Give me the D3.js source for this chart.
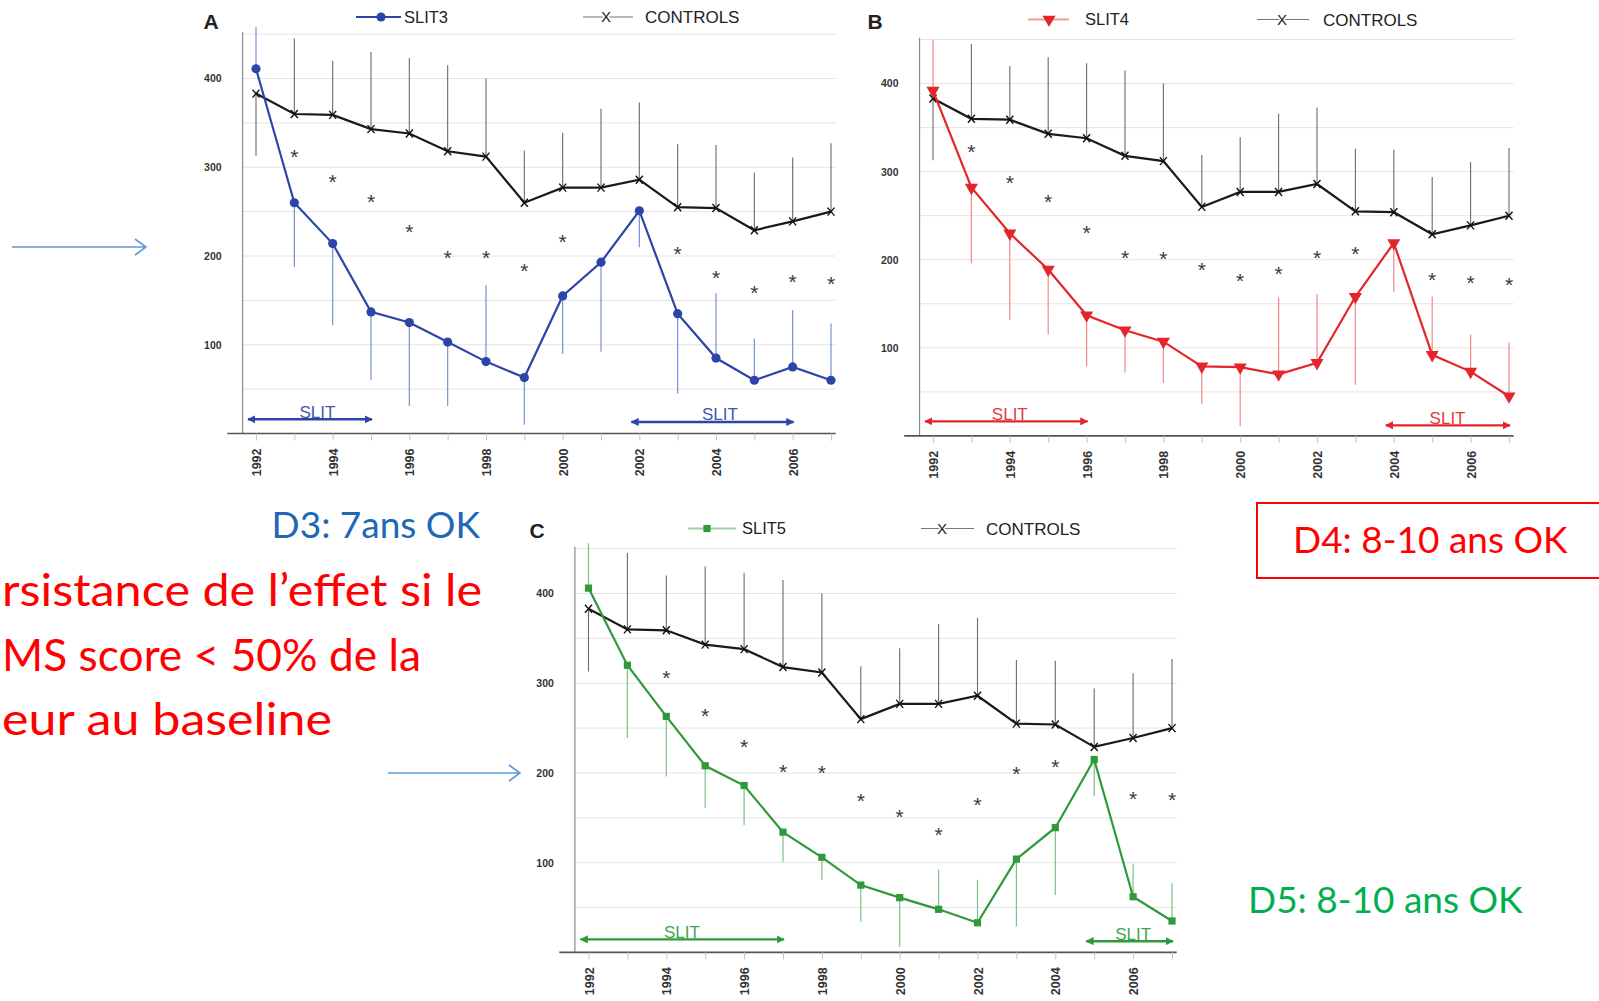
<!DOCTYPE html>
<html>
<head>
<meta charset="utf-8">
<script src="https://cdn.jsdelivr.net/npm/d3@7"></script>
<style>
  body { margin: 0; background: #fff; }
  svg { display: block; }
</style>
</head>
<body>
<div id="chart"></div>
<script>
// SLIT trial, three panels (A/B/C), each compared against the same controls

const years = [1992, 1993, 1994, 1995, 1996, 1997, 1998, 1999, 2000, 2001, 2002, 2003, 2004, 2005, 2006, 2007];
const labelYears = [1992, 1994, 1996, 1998, 2000, 2002, 2004, 2006];
const yTickValues = [100, 200, 300, 400];
const gridValues = [50, 100, 150, 200, 250, 300, 350, 400, 450];

// controls: mean and end of the error bar
const controlsMean = [383, 360, 359, 343, 338, 318, 312, 260, 277, 277, 286, 255, 254, 229, 239, 250];
const controlsBar = [313, 445, 420, 430, 423, 415, 400, 319, 339, 366, 373, 326, 325, 294, 311, 327];

// SLIT3 (panel A)
const slit3Mean = [411, 260, 214, 137, 125, 103, 81, 63, 155, 193, 251, 135, 85, 60, 75, 60];
const slit3Bar = [458, 188, 122, 60, 31, 31, 167, 10, 90, 92, 210, 45, 158, 107, 139, 124];
const slit3Stars = [null, 318, 290, 268, 234, 205, 204, 190, 222, null, null, 209, 182, 165, 177, 175];
const slit3Periods = [[1992, 1995], [2002, 2006]];
const slit3PeriodLevel = [16, 13];
const slit3PeriodLabel = [1993.6, 2004.1];

// SLIT4 (panel B)
const slit4Mean = [392, 282, 230, 189, 137, 120, 107, 79, 78, 70, 83, 158, 219, 92, 73, 45];
const slit4Bar = [450, 196, 132, 115, 79, 72, 60, 36, 11, 157, 161, 58, 163, 158, 115, 106];
const slit4Stars = [null, 329, 294, 272, 237, 209, 208, 195, 183, 191, 209, 213, null, 184, 180, 178];
const slit4Periods = [[1992, 1996], [2004, 2007]];
const slit4PeriodLevel = [16.5, 12];
const slit4PeriodLabel = [1994, 2005.4];

// SLIT5 (panel C)
const slit5Mean = [406, 320, 263, 208, 186, 134, 106, 75, 61, 48, 33, 104, 139, 215, 62, 35];
const slit5Bar = [456, 239, 196, 161, 142, 101, 81, 34, 6, 92, 81, 29, 64, 174, 99, 77];
const slit5Stars = [null, null, 313, 270, 236, 208, 207, 175, 158, 137, 171, 206, 213, null, 178, 177];
const slit5Periods = [[1992, 1997], [2005, 2007]];
const slit5PeriodLevel = [14.5, 12.5];
const slit5PeriodLabel = [1994.4, 2006];

const W = 1599, H = 1001;
const FONT = "'Liberation Sans', Arial, sans-serif";
const NOTE_FONT = "Lato, 'Open Sans', sans-serif";

const panels = [
    {
        letter: "A", name: "SLIT3", mean: slit3Mean, bar: slit3Bar, stars: slit3Stars,
        periods: slit3Periods, periodLevel: slit3PeriodLevel, periodLabel: slit3PeriodLabel,
        color: "#2d45a8", barColor: "#7a90d6", marker: "circle",
        xRange: [256, 831], yRange: [433.5, 78.5], letterPos: [211, 21],
        legend: {y: 17, line: [356, 401], mark: 381, text: 404, fade: 1, cLine: [583, 633], cMark: 606, cText: 645}
    },
    {
        letter: "B", name: "SLIT4", mean: slit4Mean, bar: slit4Bar, stars: slit4Stars,
        periods: slit4Periods, periodLevel: slit4PeriodLevel, periodLabel: slit4PeriodLabel,
        color: "#e3262b", barColor: "#ee8a8a", marker: "triangle",
        xRange: [933, 1509], yRange: [435.9, 83.6], letterPos: [875, 21],
        legend: {y: 19.5, line: [1028, 1069], mark: 1049, text: 1085, fade: 0.45, cLine: [1257, 1309], cMark: 1282, cText: 1323}
    },
    {
        letter: "C", name: "SLIT5", mean: slit5Mean, bar: slit5Bar, stars: slit5Stars,
        periods: slit5Periods, periodLevel: slit5PeriodLevel, periodLabel: slit5PeriodLabel,
        color: "#2e9a3c", barColor: "#7cc186", marker: "square",
        xRange: [588.5, 1172], yRange: [952.4, 593.5], letterPos: [537, 530],
        legend: {y: 528.5, line: [688, 736], mark: 707, text: 742, fade: 0.45, cLine: [921, 974], cMark: 942, cText: 986}
    }
];

const svg = d3.select("#chart").append("svg")
    .attr("width", W)
    .attr("height", H)
    .style("font-family", FONT);

svg.append("rect").attr("width", W).attr("height", H).attr("fill", "#fff");

function drawMarker(g, type, cx, cy, color) {
    if (type === "circle") {
        g.append("circle").attr("cx", cx).attr("cy", cy).attr("r", 4.6).attr("fill", color);
    } else if (type === "triangle") {
        g.append("path")
            .attr("d", d3.symbol().type(d3.symbolTriangle).size(75)())
            .attr("transform", `translate(${cx},${cy}) rotate(180)`)
            .attr("fill", color);
    } else if (type === "square") {
        g.append("rect").attr("x", cx - 3.6).attr("y", cy - 3.6)
            .attr("width", 7.2).attr("height", 7.2).attr("fill", color);
    } else {
        // control "x"
        g.append("path")
            .attr("d", `M${cx - 3.5},${cy - 4}L${cx + 3.5},${cy + 4}M${cx + 3.5},${cy - 4}L${cx - 3.5},${cy + 4}`)
            .attr("stroke", "#111").attr("stroke-width", 1.4).attr("fill", "none");
    }
}

function drawPanel(p) {
    const x = d3.scaleLinear().domain([1992, 2007]).range(p.xRange);
    const y = d3.scaleLinear().domain([0, 400]).range(p.yRange);
    const g = svg.append("g").attr("class", "panel-" + p.letter);

    const axisX = x(1991.65);
    const xStart = x(1991.25), xEnd = x(2007.12);

    // faint horizontal grid
    g.selectAll(".grid")
        .data(gridValues)
        .enter().append("line")
        .attr("x1", axisX).attr("x2", xEnd)
        .attr("y1", d => y(d)).attr("y2", d => y(d))
        .attr("stroke", "#e4e4e4").attr("stroke-width", 1);

    // axis lines
    g.append("line")
        .attr("x1", axisX).attr("x2", axisX)
        .attr("y1", y(452)).attr("y2", y(0))
        .attr("stroke", "#8a8a8a").attr("stroke-width", 1.2);
    g.append("line")
        .attr("x1", xStart).attr("x2", xEnd)
        .attr("y1", y(0)).attr("y2", y(0))
        .attr("stroke", "#555").attr("stroke-width", 1.6);

    // x axis: ticks every year, labels every second year, rotated
    const xAxis = g.append("g")
        .attr("transform", `translate(0,${y(0)})`)
        .call(d3.axisBottom(x)
            .tickValues(years)
            .tickSize(7)
            .tickSizeOuter(0)
            .tickFormat(d => labelYears.includes(d) ? d : ""));
    xAxis.select(".domain").remove();
    xAxis.selectAll(".tick line").attr("stroke", "#c4c4c4");
    xAxis.selectAll(".tick text")
        .attr("transform", "rotate(-90)")
        .attr("x", -15).attr("y", 0).attr("dy", "0.36em")
        .style("text-anchor", "end")
        .style("font-size", "12.5px")
        .style("font-weight", "bold")
        .style("font-family", FONT)
        .attr("fill", "#333");

    // y axis labels
    const yAxis = g.append("g")
        .attr("transform", `translate(${axisX},0)`)
        .call(d3.axisLeft(y).tickValues(yTickValues).tickSize(0).tickPadding(21));
    yAxis.select(".domain").remove();
    yAxis.selectAll(".tick text")
        .style("font-size", "10.5px")
        .style("font-weight", "bold")
        .style("font-family", FONT)
        .attr("fill", "#333");

    // error bars
    g.selectAll(".cbar")
        .data(years)
        .enter().append("line")
        .attr("x1", d => x(d)).attr("x2", d => x(d))
        .attr("y1", (d, i) => y(controlsMean[i])).attr("y2", (d, i) => y(controlsBar[i]))
        .attr("stroke", "#6a6a6a").attr("stroke-width", 1.1);
    g.selectAll(".sbar")
        .data(years)
        .enter().append("line")
        .attr("x1", d => x(d)).attr("x2", d => x(d))
        .attr("y1", (d, i) => y(p.mean[i])).attr("y2", (d, i) => y(p.bar[i]))
        .attr("stroke", p.barColor).attr("stroke-width", 1.2);

    const line = d3.line().x(d => x(d[0])).y(d => y(d[1]));

    // controls series
    g.append("path")
        .datum(years.map((yr, i) => [yr, controlsMean[i]]))
        .attr("d", line)
        .attr("fill", "none").attr("stroke", "#1a1a1a").attr("stroke-width", 2.2);
    years.forEach((yr, i) => drawMarker(g, "x", x(yr), y(controlsMean[i])));

    // SLIT series
    g.append("path")
        .datum(years.map((yr, i) => [yr, p.mean[i]]))
        .attr("d", line)
        .attr("fill", "none").attr("stroke", p.color).attr("stroke-width", 2.2);
    years.forEach((yr, i) => drawMarker(g, p.marker, x(yr), y(p.mean[i]), p.color));

    // significance stars
    g.selectAll(".star")
        .data(years.filter((yr, i) => p.stars[i] !== null))
        .enter().append("text")
        .attr("x", d => x(d))
        .attr("y", d => y(p.stars[years.indexOf(d)]))
        .attr("dy", "0.62em")
        .attr("text-anchor", "middle")
        .style("font-size", "21px")
        .attr("fill", "#3a3a3a")
        .text("*");

    // treatment periods
    const mid = "arrow-" + p.letter;
    const defs = svg.append("defs");
    ["s", "e"].forEach(k => {
        defs.append("marker")
            .attr("id", mid + k)
            .attr("viewBox", "0 0 10 10")
            .attr("refX", k === "e" ? 9 : 1).attr("refY", 5)
            .attr("markerWidth", 3.4).attr("markerHeight", 3.4)
            .attr("markerUnits", "strokeWidth")
            .attr("orient", "auto")
            .append("path")
            .attr("d", k === "e" ? "M0,0L10,5L0,10z" : "M10,0L0,5L10,10z")
            .attr("fill", p.color);
    });
    p.periods.forEach((per, i) => {
        const ly = y(p.periodLevel[i]);
        g.append("line")
            .attr("x1", x(per[0]) - 8).attr("x2", x(per[1]) + 1)
            .attr("y1", ly).attr("y2", ly)
            .attr("stroke", p.color).attr("stroke-width", 2.4)
            .attr("marker-start", `url(#${mid}s)`)
            .attr("marker-end", `url(#${mid}e)`);
        g.append("text")
            .attr("x", x(p.periodLabel[i]))
            .attr("y", ly - 1.5)
            .attr("text-anchor", "middle")
            .style("font-size", "17px")
            .attr("fill", p.color)
            .attr("opacity", 0.9)
            .text("SLIT");
    });

    // legend
    const L = p.legend;
    g.append("line")
        .attr("x1", L.line[0]).attr("x2", L.line[1])
        .attr("y1", L.y).attr("y2", L.y)
        .attr("stroke", p.color).attr("stroke-width", 2.2).attr("opacity", L.fade);
    drawMarker(g, p.marker, L.mark, L.y, p.color);
    g.append("text")
        .attr("x", L.text).attr("y", L.y).attr("dy", "0.36em")
        .style("font-size", "16.5px").attr("fill", "#222")
        .text(p.name);
    g.append("line")
        .attr("x1", L.cLine[0]).attr("x2", L.cLine[1])
        .attr("y1", L.y).attr("y2", L.y)
        .attr("stroke", "#777").attr("stroke-width", 1.2);
    g.append("text")
        .attr("x", L.cMark).attr("y", L.y).attr("dy", "0.36em")
        .attr("text-anchor", "middle")
        .style("font-size", "15px").attr("fill", "#222")
        .attr("paint-order", "stroke").attr("stroke", "#fff").attr("stroke-width", 3)
        .text("X");
    g.append("text")
        .attr("x", L.cText).attr("y", L.y).attr("dy", "0.36em")
        .style("font-size", "17px").attr("fill", "#222")
        .text("CONTROLS");

    // panel letter
    g.append("text")
        .attr("x", p.letterPos[0]).attr("y", p.letterPos[1]).attr("dy", "0.36em")
        .attr("text-anchor", "middle")
        .style("font-size", "21px").style("font-weight", "bold").attr("fill", "#222")
        .text(p.letter);
}

panels.forEach(drawPanel);

// slide annotations
const notes = svg.append("g").style("font-family", NOTE_FONT);

function blueArrow(x1, x2, yy) {
    notes.append("path")
        .attr("d", `M${x1},${yy}L${x2},${yy}M${x2 - 11},${yy - 8}L${x2},${yy}L${x2 - 11},${yy + 8}`)
        .attr("fill", "none").attr("stroke", "#5b9bd5").attr("stroke-width", 1.6);
}
blueArrow(12, 146, 247);
blueArrow(388, 520, 773);

notes.append("text")
    .attr("x", 480).attr("y", 538).attr("text-anchor", "end")
    .style("font-size", "37px").attr("fill", "#2067b6")
    .text("D3: 7ans OK");

// the slide text starts at the left edge of the picture
const redLines = ["rsistance de l\u2019effet si le", "MS score < 50% de la", "eur au baseline"];
const redRight = [482, 421, 332];
const redLeft = 2;
redLines.forEach((t, i) => {
    notes.append("text")
        .attr("x", redLeft).attr("y", 606 + i * 64.5)
        .attr("textLength", redRight[i] - redLeft)
        .attr("lengthAdjust", "spacingAndGlyphs")
        .style("font-size", "44px").attr("fill", "#ff0000")
        .text(t);
});

notes.append("rect")
    .attr("x", 1257).attr("y", 503).attr("width", 360).attr("height", 75)
    .attr("fill", "none").attr("stroke", "#ff0000").attr("stroke-width", 2);
notes.append("text")
    .attr("x", 1293).attr("y", 553).style("font-size", "37px").attr("fill", "#ff0000")
    .text("D4: 8-10 ans OK");

notes.append("text")
    .attr("x", 1248).attr("y", 913).style("font-size", "37px").attr("fill", "#00b050")
    .text("D5: 8-10 ans OK");
</script>
</body>
</html>
